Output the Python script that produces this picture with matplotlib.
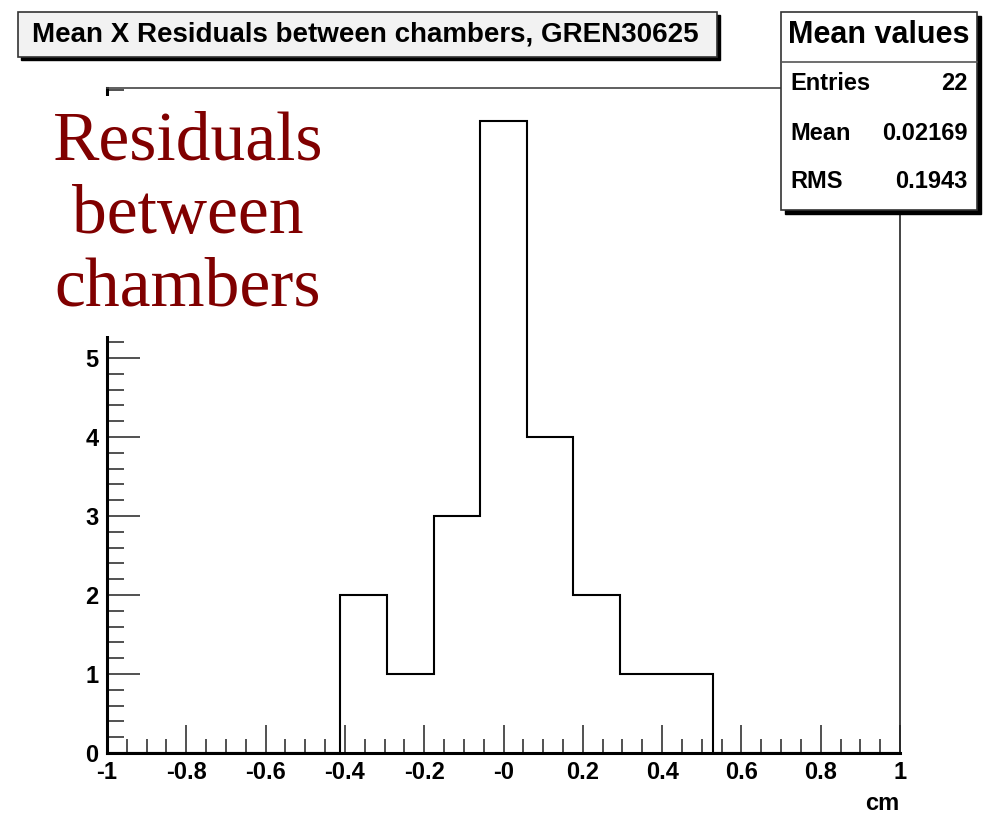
import numpy as np
import matplotlib
matplotlib.use('Agg')
import matplotlib.pyplot as plt
from matplotlib.patches import Rectangle
from matplotlib.ticker import MultipleLocator

# histogram data: 17 bins over [-1, 1]
bin_edges = np.linspace(-1, 1, 18)
counts = [0, 0, 0, 0, 0, 2, 1, 3, 8, 4, 2, 1, 1, 0, 0, 0, 0]
title = 'Mean X Residuals between chambers, GREN30625'
stats_title = 'Mean values'
stats_names = ['Entries', 'Mean', 'RMS']
stats_values = ['22', '0.02169', '0.1943']
xticks = [-1, -0.8, -0.6, -0.4, -0.2, 0, 0.2, 0.4, 0.6, 0.8, 1]
xticklabels = ['-1', '-0.8', '-0.6', '-0.4', '-0.2', '-0', '0.2', '0.4', '0.6', '0.8', '1']

W, H = 986, 815
SANS = ['Liberation Sans Narrow', 'Liberation Sans', 'DejaVu Sans']

def fx(x):
    return x / W

def fy(y):
    return 1 - y / H

fig = plt.figure(figsize=(W / 100, H / 100), dpi=100)
fig.patch.set_facecolor('white')
ax = fig.add_axes([fx(107), fy(753), fx(900) - fx(107), fy(88) - fy(753)])

ax.stairs(counts, bin_edges, color='black', linewidth=1.5)
ax.set_xlim(-1, 1)
ax.set_ylim(0, 8.42)

ax.set_xticks(xticks)
ax.set_xticklabels(xticklabels)
ax.xaxis.set_minor_locator(MultipleLocator(0.05))
ax.set_yticks([0, 1, 2, 3, 4, 5])
ax.yaxis.set_minor_locator(MultipleLocator(0.2))
ax.tick_params(which='major', direction='in', length=20, width=1.2, color='#333333',
               labelsize=17, pad=4)
ax.tick_params(which='minor', direction='in', length=10, width=1.2, color='#333333')
ax.tick_params(axis='y', which='major', length=24, pad=6)
ax.tick_params(axis='y', which='minor', length=12)
ax.tick_params(axis='x', which='major', pad=6)
for lab in ax.get_xticklabels() + ax.get_yticklabels():
    lab.set_family(SANS)
    lab.set_fontweight('bold')

ax.spines['left'].set_linewidth(2.2)
ax.spines['bottom'].set_linewidth(2.2)
ax.spines['top'].set_linewidth(1.2)
ax.spines['right'].set_linewidth(1.2)
ax.spines['top'].set_color('#444444')
ax.spines['right'].set_color('#222222')

fig.text(fx(899), fy(803), 'cm', ha='right', va='center', fontsize=17,
         family=SANS, fontweight='bold')

# white block behind the red annotation
fig.add_artist(Rectangle((fx(40), fy(336)), fx(335) - fx(40), fy(96) - fy(336),
                         transform=fig.transFigure, facecolor='white',
                         edgecolor='none', zorder=5))
fig.text(fx(188), fy(216), 'Residuals\nbetween\nchambers', ha='center', va='center',
         fontsize=50, color='#800000', family=['Liberation Serif', 'DejaVu Serif'],
         linespacing=1.2, zorder=6)

# title box with shadow
fig.add_artist(Rectangle((fx(21), fy(60)), fx(717) - fx(18), fy(12) - fy(57),
                         transform=fig.transFigure, facecolor='black',
                         edgecolor='black', zorder=5))
fig.add_artist(Rectangle((fx(18), fy(57)), fx(717) - fx(18), fy(12) - fy(57),
                         transform=fig.transFigure, facecolor='#f2f2f2',
                         edgecolor='#333333', linewidth=1.2, zorder=6))
fig.text(fx(365), fy(35), title, ha='center', va='center', fontsize=20,
         family=SANS, fontweight='bold', zorder=7)

# stats box with shadow
fig.add_artist(Rectangle((fx(785), fy(214)), fx(977) - fx(781), fy(12) - fy(210),
                         transform=fig.transFigure, facecolor='black',
                         edgecolor='black', zorder=5))
fig.add_artist(Rectangle((fx(781), fy(210)), fx(977) - fx(781), fy(12) - fy(210),
                         transform=fig.transFigure, facecolor='white',
                         edgecolor='#333333', linewidth=1.2, zorder=6))
fig.add_artist(plt.Line2D([fx(781), fx(977)], [fy(62), fy(62)], transform=fig.transFigure,
                          color='#555555', linewidth=1.2, zorder=7))
fig.text(fx(879), fy(35), stats_title, ha='center', va='center', fontsize=22,
         family=SANS, fontweight='bold', zorder=7)
for i, (name, val) in enumerate(zip(stats_names, stats_values)):
    y = fy(84 + 49 * i)
    fig.text(fx(790), y, name, ha='left', va='center', fontsize=17,
             family=SANS, fontweight='bold', zorder=7)
    fig.text(fx(968), y, val, ha='right', va='center', fontsize=17,
             family=SANS, fontweight='bold', zorder=7)

fig.savefig('out.png', dpi=100)
